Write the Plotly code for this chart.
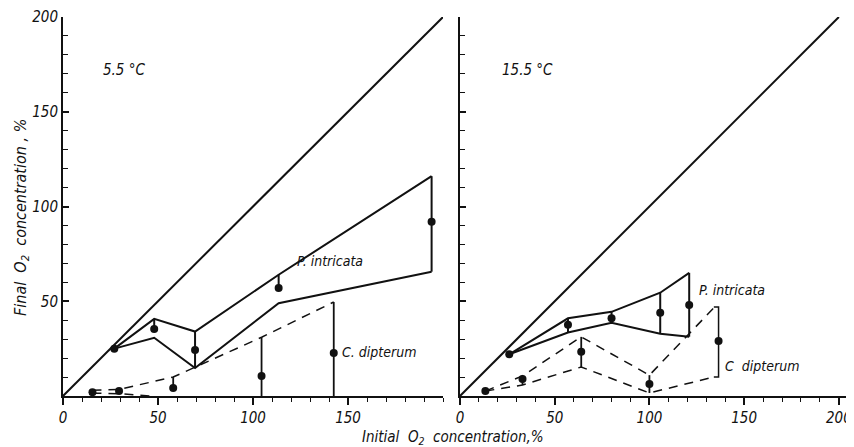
import plotly.graph_objects as go

# ---------------- data ----------------
diag = [0, 200]

# 5.5 °C panel
piL_x = [27, 48, 69.5, 113.5, 194]
piL_upper = [25, 40.7, 34, 64, 116]
piL_lower = [25, 30.7, 14.8, 49, 65.6]
piL_pts = [25, 35.4, 24.3, 57, 92]
piL_bar_hi = [None, 40.7, 34, 64, 116]
piL_bar_lo = [None, 35.4, 14.8, 57, 65.6]

cdL_x = [15.5, 29.5, 58, 104.5, 142.5]
cdL_upper = [3, 3.5, 10, 31, 49.6]
cdL_lower_x = [15.5, 29.5, 46]
cdL_lower = [1.5, 1.2, 0]
cdL_pts = [2, 2.6, 4.2, 10.6, 22.7]
cdL_bar_hi = [None, None, 10, 31, 49.6]
cdL_bar_lo = [None, None, 4.2, 0, 0]

# 15.5 °C panel
piR_x = [26, 57, 80, 105.7, 121]
piR_upper = [22, 41, 44.4, 54.5, 65]
piR_lower = [22, 33.5, 38.6, 32.8, 31.3]
piR_pts = [22, 37.6, 41, 43.9, 48]
piR_bar_hi = [None, 41, 44.4, 54.5, 65]
piR_bar_lo = [None, 33.5, 41, 32.8, 31.3]

cdR_x = [13.4, 33, 64, 100, 134]
cdR_upper = [2.6, 10.6, 31.2, 11, 46.5]
cdR_lower = [2.6, 5.8, 15.3, 1.6, 10]
cdR_pts_x = [13.4, 33, 64, 100, 136.5]
cdR_pts = [2.6, 9, 23.3, 6.3, 29]
cdR_bar_hi = [None, 10.6, 31.2, 11, 47]
cdR_bar_lo = [None, 5.8, 15.3, 1.6, 10]

FONT = "DejaVu Sans Condensed, Liberation Sans Narrow, Arial Narrow, sans-serif"
BLACK = "#111111"

fig = go.Figure()


def segs(xs, hi, lo):
    sx, sy = [], []
    for x, h, l in zip(xs, hi, lo):
        if h is None:
            continue
        sx += [x, x, None]
        sy += [h, l, None]
    return sx, sy


def add_panel(xa, ya, pi_x, pi_up, pi_lo, pi_pts, pi_bh, pi_bl,
              cd_ux, cd_up, cd_lx, cd_lo, cd_px, cd_pts, cd_bh, cd_bl, bracket=None):
    fig.add_trace(go.Scatter(x=diag, y=diag, mode="lines", xaxis=xa, yaxis=ya,
                             line=dict(color=BLACK, width=2), hoverinfo="skip"))
    fig.add_trace(go.Scatter(x=pi_x, y=pi_up, mode="lines", xaxis=xa, yaxis=ya,
                             line=dict(color=BLACK, width=2)))
    fig.add_trace(go.Scatter(x=pi_x, y=pi_lo, mode="lines", xaxis=xa, yaxis=ya,
                             line=dict(color=BLACK, width=2)))
    bx, by = segs(pi_x, pi_bh, pi_bl)
    fig.add_trace(go.Scatter(x=bx, y=by, mode="lines", xaxis=xa, yaxis=ya,
                             line=dict(color=BLACK, width=2)))
    fig.add_trace(go.Scatter(x=cd_ux, y=cd_up, mode="lines", xaxis=xa, yaxis=ya,
                             line=dict(color=BLACK, width=1.5, dash="9px,7px")))
    fig.add_trace(go.Scatter(x=cd_lx, y=cd_lo, mode="lines", xaxis=xa, yaxis=ya,
                             line=dict(color=BLACK, width=1.5, dash="9px,7px")))
    bx, by = segs(cd_px, cd_bh, cd_bl)
    fig.add_trace(go.Scatter(x=bx, y=by, mode="lines", xaxis=xa, yaxis=ya,
                             line=dict(color=BLACK, width=1.8)))
    if bracket is not None:
        fig.add_trace(go.Scatter(x=bracket[0], y=bracket[1], mode="lines", xaxis=xa, yaxis=ya,
                                 line=dict(color=BLACK, width=1.5)))
    fig.add_trace(go.Scatter(x=pi_x, y=pi_pts, mode="markers", xaxis=xa, yaxis=ya,
                             marker=dict(color=BLACK, size=8)))
    fig.add_trace(go.Scatter(x=cd_px, y=cd_pts, mode="markers", xaxis=xa, yaxis=ya,
                             marker=dict(color=BLACK, size=8)))


add_panel("x", "y", piL_x, piL_upper, piL_lower, piL_pts, piL_bar_hi, piL_bar_lo,
          cdL_x, cdL_upper, cdL_lower_x, cdL_lower, cdL_x, cdL_pts, cdL_bar_hi, cdL_bar_lo)

bracket_R = ([cdR_x[-1], cdR_pts_x[-1], cdR_pts_x[-1], cdR_x[-1]],
             [cdR_bar_hi[-1], cdR_bar_hi[-1], cdR_bar_lo[-1], cdR_bar_lo[-1]])
add_panel("x2", "y2", piR_x, piR_upper, piR_lower, piR_pts, piR_bar_hi, piR_bar_lo,
          cdR_x, cdR_upper, cdR_x, cdR_lower, cdR_pts_x, cdR_pts,
          [None] * 5, [None] * 5, bracket=bracket_R)
bx, by = segs(cdR_x[:4], cdR_bar_hi[:4], cdR_bar_lo[:4])
fig.add_trace(go.Scatter(x=bx, y=by, mode="lines", xaxis="x2", yaxis="y2",
                         line=dict(color=BLACK, width=1.8)))

OFF = 8  # page body margin offset in the browser
W, H = 854 - OFF, 447 - OFF
tickfont = dict(family=FONT, size=15, color=BLACK, style="italic")
y_dom = [(H - (396 - OFF)) / H, (H - (17 - OFF)) / H]

xcommon = dict(showgrid=False, zeroline=False, showline=True, linecolor=BLACK, linewidth=2,
               ticks="outside", ticklen=7, tickwidth=1.5, tickcolor=BLACK,
               minor=dict(dtick=10, ticks="outside", ticklen=4, tickcolor=BLACK, tickwidth=1),
               tickfont=tickfont, fixedrange=True, automargin=False,
               ticklabeloverflow="allow")
ycommon = dict(showgrid=False, zeroline=False, showline=True, linecolor=BLACK, linewidth=2,
               ticks="inside", ticklen=6, tickwidth=1.5, tickcolor=BLACK,
               minor=dict(dtick=10, ticks="inside", ticklen=5, tickcolor=BLACK, tickwidth=1),
               tickfont=tickfont, range=[0, 200], domain=y_dom, fixedrange=True,
               automargin=False, ticklabeloverflow="allow")

fig.update_layout(
    width=W, height=H,
    margin=dict(l=0, r=0, t=0, b=0, autoexpand=False),
    paper_bgcolor="white", plot_bgcolor="white",
    showlegend=False,
    xaxis=dict(xcommon, domain=[(63 - OFF) / W, (443 - OFF) / W], range=[0, 200],
               tickvals=[0, 50, 100, 150], anchor="y"),
    yaxis=dict(ycommon, anchor="x", tickvals=[50, 100, 150, 200]),
    xaxis2=dict(xcommon, domain=[(460 - OFF) / W, 1.0], range=[0, 208],
                tickvals=[0, 50, 100, 150, 200], anchor="y2"),
    yaxis2=dict(ycommon, anchor="x2", tickvals=[50, 100, 150, 200], showticklabels=False),
)

afont = dict(family=FONT, size=14, color=BLACK, style="italic")
ann = [
    dict(text="5.5 °C", x=20, y=172, xref="x", yref="y", xanchor="left", showarrow=False,
         font=dict(afont, size=15)),
    dict(text="15.5 °C", x=21, y=172, xref="x2", yref="y2", xanchor="left", showarrow=False,
         font=dict(afont, size=15)),
    dict(text="P. intricata", x=122, y=71, xref="x", yref="y", xanchor="left", showarrow=False,
         font=afont),
    dict(text="C. dipterum", x=146, y=23, xref="x", yref="y", xanchor="left", showarrow=False,
         font=afont),
    dict(text="P. intricata", x=125, y=56, xref="x2", yref="y2", xanchor="left", showarrow=False,
         font=afont),
    dict(text="C  dipterum", x=139, y=16, xref="x2", yref="y2", xanchor="left", showarrow=False,
         font=afont),
    dict(text="Initial  O<sub>2</sub>  concentration,%", x=(453 - OFF) / W, y=(H - (437 - OFF)) / H,
         xref="paper", yref="paper", xanchor="center", yanchor="middle", showarrow=False,
         font=dict(afont, size=15)),
    dict(text="Final  O<sub>2</sub>  concentration , %", x=(22 - OFF) / W, y=(H - (218 - OFF)) / H,
         xref="paper", yref="paper", xanchor="center", yanchor="middle", showarrow=False,
         textangle=-90, font=dict(afont, size=16)),
]
fig.update_layout(annotations=ann)

fig.write_html("out.html")
